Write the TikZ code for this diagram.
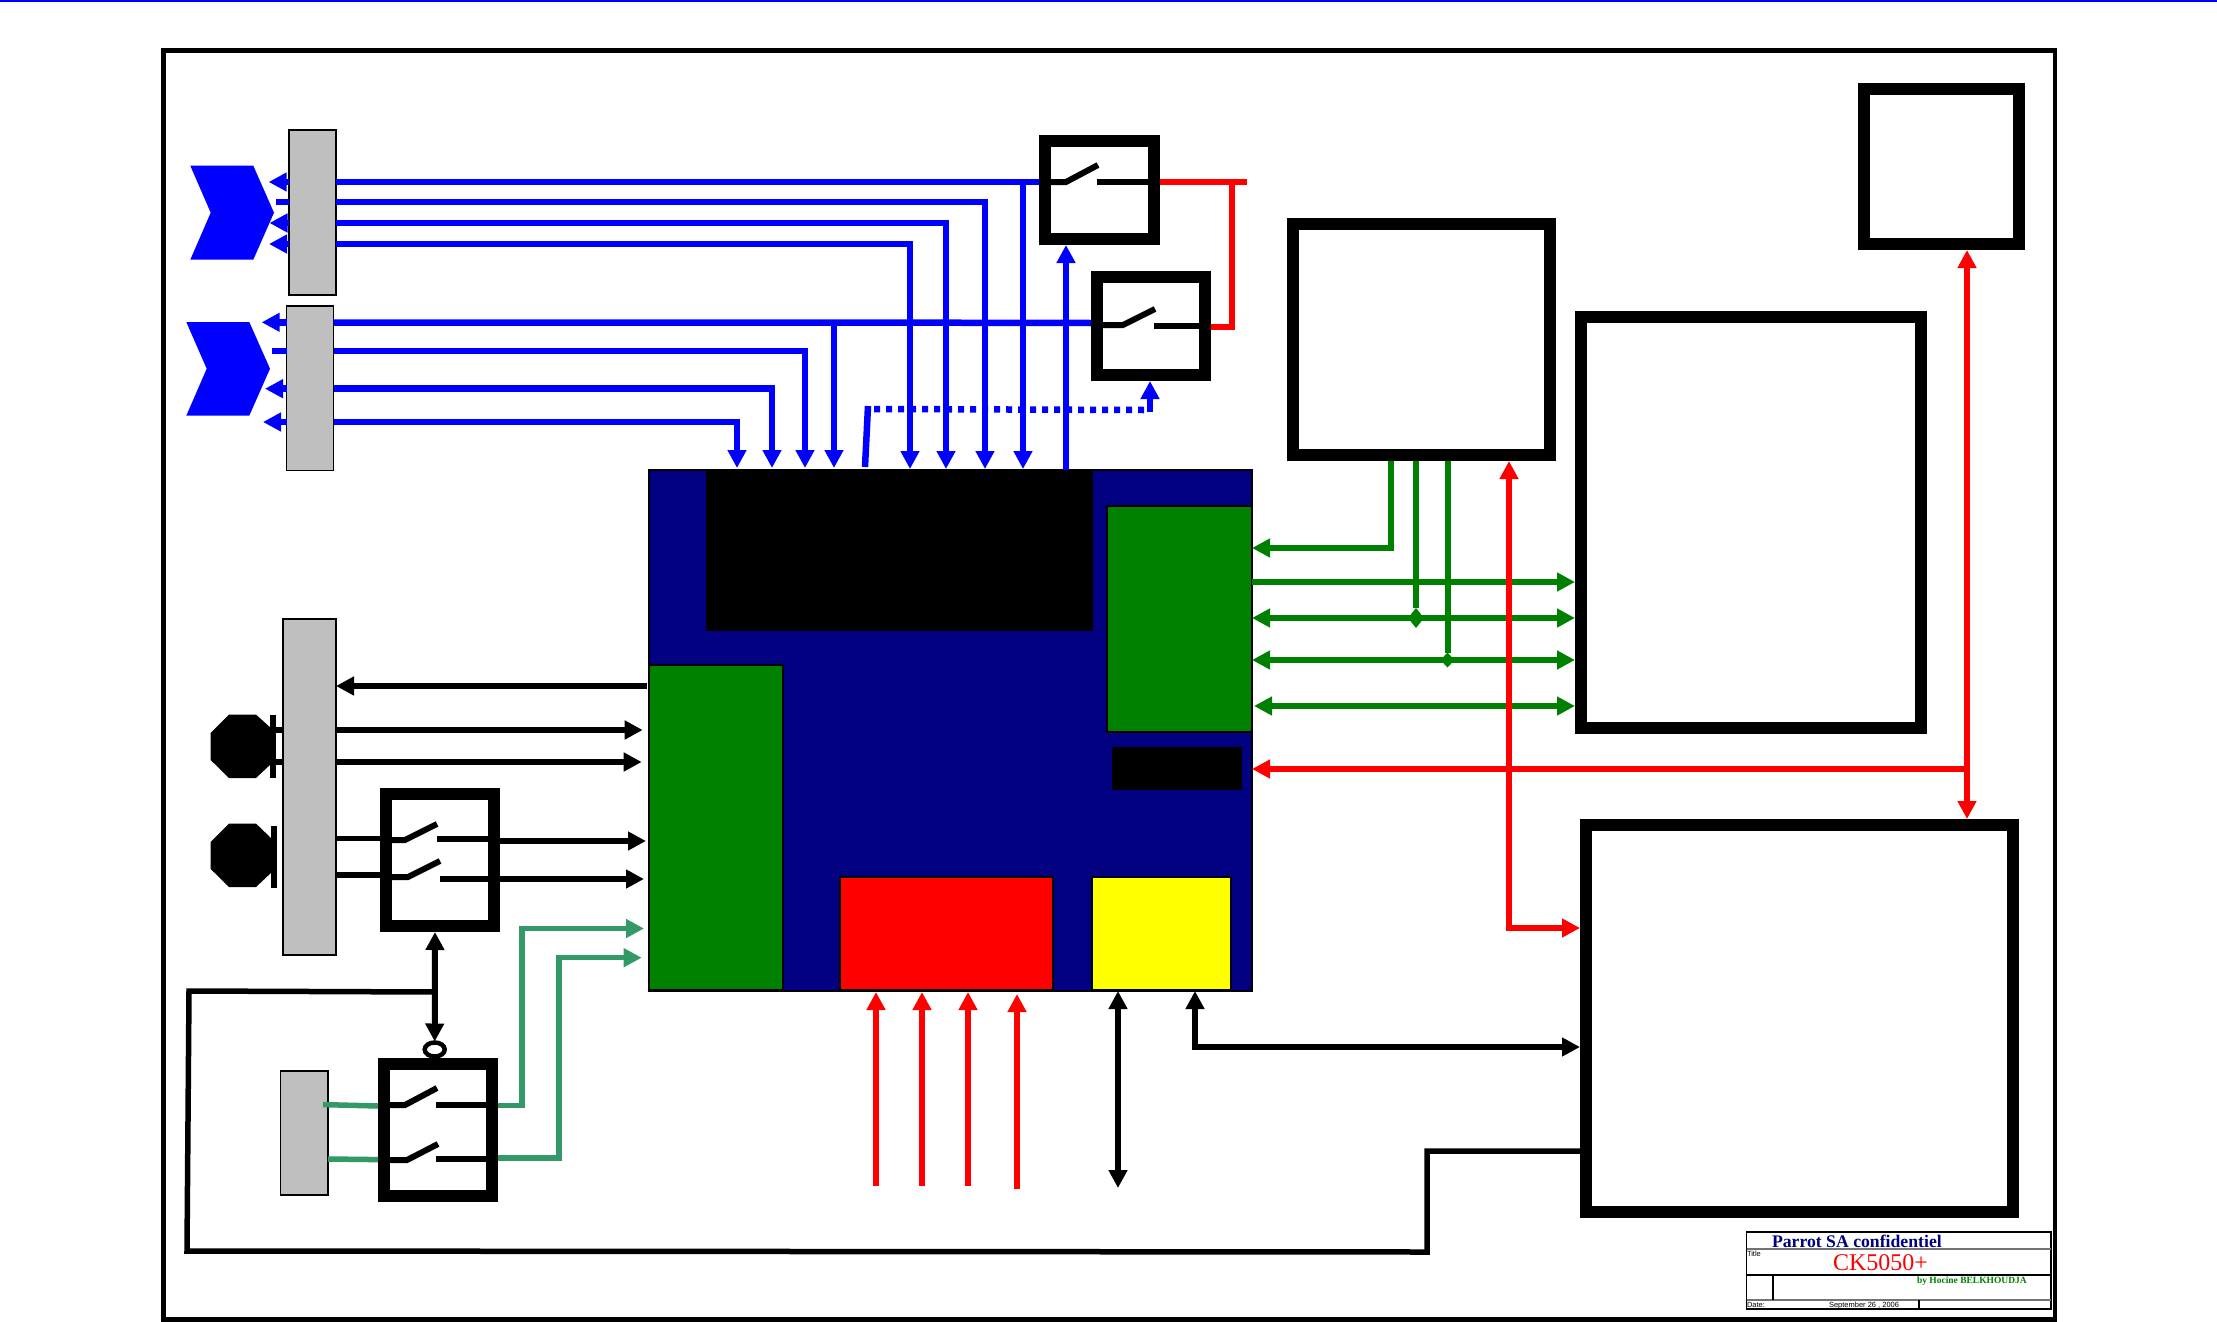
\documentclass[tikz,border=0pt]{standalone}
\usepackage{fontspec}
\setmainfont{Liberation Serif}
\newfontfamily\lsans{Liberation Sans}
\usetikzlibrary{arrows.meta,shapes.geometric,calc}
\definecolor{navyb}{HTML}{000080}
\definecolor{greenb}{HTML}{008000}
\definecolor{seag}{HTML}{339966}
\definecolor{grayb}{HTML}{BFBFBF}
\definecolor{yellowb}{HTML}{FFFF00}
\definecolor{redb}{HTML}{FF0000}
\definecolor{blueb}{HTML}{0000FF}
\newcommand{\boxat}[6]{\node[#1,minimum width={(#5-#3)*1pt},minimum height={(#6-#4)*1pt}] (#2) at ({(#3+#5)/2},{(#4+#6)/2}) {};}
\tikzset{
  >={Triangle[length=18pt,width=18pt]},
  plain/.style={rectangle,inner sep=0pt,outer sep=0pt},
  thickbox/.style={plain,draw=black,line width=12pt,fill=white,outer sep=6pt},
  graybox/.style={plain,draw=black,line width=1.5pt,fill=grayb},
  solid box/.style={plain,draw=black,line width=1.5pt,fill=#1},
  bw/.style={draw=blueb,line width=6.5pt},
  gw/.style={draw=greenb,line width=6pt},
  rw/.style={draw=redb,line width=6pt},
  kw/.style={draw=black,line width=5.5pt},
  sw/.style={draw=seag,line width=5.5pt},
  contact/.style={draw=black,line width=6pt},
  chev/.style={fill=blueb},
  octa/.style={fill=black},
  dia/.style={diamond,fill=greenb,inner sep=0pt,outer sep=0pt},
  tline/.style={draw=black,line width=1.2pt},
  tgray/.style={draw=black!55,line width=1.2pt},
  txt/.style={inner sep=0pt,outer sep=0pt,anchor=base west},
}
\begin{document}
\begin{tikzpicture}[x=1pt,y=-1pt]
\useasboundingbox (0,0) rectangle (2217,1322);
\fill[white] (0,0) rectangle (2217,1322);
\draw[draw=blueb,line width=2.5pt] (0,1) -- (2217,1);
\node[plain,draw=black,line width=4.6pt,minimum width=1891.5pt,minimum height=1269pt] (frame) at (1109.25,685) {};

% main block
\boxat{solid box=navyb}{main}{649}{470}{1252}{991}
\node[plain,fill=black,minimum width=387pt,minimum height=162pt] (core) at (899.5,550) {};
\boxat{solid box=greenb}{gright}{1107}{506}{1252}{732}
\boxat{solid box=greenb}{gleft}{649}{665}{783}{990}
\node[plain,fill=black,minimum width=130pt,minimum height=43pt] (blk) at (1177,768.5) {};
\boxat{solid box=redb}{redbk}{840}{877}{1053}{990}
\boxat{solid box=yellowb}{yel}{1092}{877}{1231}{990}

% grey connectors
\boxat{graybox}{con1}{289}{130}{336}{295}
\boxat{graybox}{con2}{286.5}{306}{333.5}{470.5}
\boxat{graybox}{con3}{283}{619}{336}{955}
\boxat{graybox}{con4}{280.5}{1071}{328}{1195}

% thick boxes
\boxat{thickbox}{swa}{1045}{141}{1154}{239}
\boxat{thickbox}{swb}{1097}{277}{1205}{375}
\boxat{thickbox}{swc}{386}{794}{494}{926}
\boxat{thickbox}{swd}{384}{1064}{492}{1196}
\boxat{thickbox}{boxa}{1293}{224}{1550}{455}
\boxat{thickbox}{boxb}{1581}{317}{1921}{728}
\boxat{thickbox}{boxc}{1586}{825}{2013}{1212}
\boxat{thickbox}{boxd}{1864}{89}{2019}{244}

% chevrons
\fill[chev] (190.3,165.7) -- (253.3,165.7) -- (274,212.7) -- (253.3,259.7) -- (190.3,259.7) -- (210.7,212.7) -- cycle;
\fill[chev] (186.3,322) -- (249.3,322) -- (270,368.7) -- (249.3,415.7) -- (186.3,415.7) -- (206.7,368.7) -- cycle;

% speakers / mics
\fill[octa] (210.7,733) -- (229,714.6) -- (256,714.6) -- (272,729) -- (272,763) -- (256,778) -- (229,778) -- (210.7,760) -- cycle;
\fill[octa] (270,714.6) rectangle (276,778);
\draw[kw] (276,730) -- (con3.west |- 0,730);
\draw[kw] (276,762) -- (con3.west |- 0,762);
\fill[octa] (210.7,842) -- (229,823.6) -- (256,823.6) -- (272,839) -- (272,872) -- (256,887) -- (229,887) -- (210.7,869) -- cycle;
\fill[octa] (270.7,826) rectangle (276.7,887.5);

% switch internals
\draw[contact] (1051,182) -- (1066,182) -- (1098,165);
\draw[contact] (1097,182) -- (1148,182);
\draw[contact] (1103,325) -- (1123,325) -- (1155,309);
\draw[contact] (1154,326) -- (1199,326);
\draw[contact] (392,840) -- (405,840) -- (437,824);
\draw[contact] (437,839) -- (488,839);
\draw[contact] (392,877) -- (408,877) -- (440,861);
\draw[contact] (440,879) -- (488,879);
\draw[contact] (390,1105) -- (405,1105) -- (437,1088);
\draw[contact] (436,1105) -- (486,1105);
\draw[contact] (390,1160) -- (407,1160) -- (438,1144);
\draw[contact] (436,1159) -- (486,1159);

% blue connectors, upper connector
\coordinate (t1) at (985,469);
\coordinate (t2) at (946,469);
\coordinate (t3) at (910,469);
\coordinate (t4) at (1023,469);
\draw[bw] (con1.east |- 0,182) -- (swa.west |- 0,182);
\draw[bw,->] (1023,182) -- (t4);
\draw[bw,->] (con1.east |- 0,202) -| (t1);
\draw[bw,->] (con1.east |- 0,223) -| (t2);
\draw[bw,->] (con1.east |- 0,244) -| (t3);
\draw[bw,->] (con1.west |- 0,182) -- (268.7,182);
\draw[bw] (con1.west |- 0,202) -- (276,202);
\draw[bw,->] (con1.west |- 0,223) -- (269.5,223);
\draw[bw,->] (con1.west |- 0,244) -- (269,244);
% blue connectors, lower connector
\coordinate (t5) at (834,468);
\coordinate (t6) at (805,468);
\coordinate (t7) at (772,468);
\coordinate (t8) at (737,468);
\draw[bw] (con2.east |- 0,322.5) -- (834,322.5) -- (swb.west |- 0,323);
\draw[bw,->] (834,323) -- (t5);
\draw[bw,->] (con2.east |- 0,351) -| (t6);
\draw[bw,->] (con2.east |- 0,388.7) -| (t7);
\draw[bw,->] (con2.east |- 0,422) -| (t8);
\draw[bw,->] (con2.west |- 0,322.3) -- (261.7,322.3);
\draw[bw] (con2.west |- 0,351) -- (272,351);
\draw[bw,->] (con2.west |- 0,388.7) -- (265,388.7);
\draw[bw,->] (con2.west |- 0,422) -- (263,422);
% core to switches
\draw[bw,->] (1066,470) -- (1066,245);
\draw[bw,dash pattern=on 6pt off 6pt] (874,409) -- (1144,410);
\draw[bw] (865,467) -- (868,406);
\draw[bw,->] (swb.south -| 1150,412) ++(0,31) -- (swb.south -| 1150,381);
% red link of the two switches
\draw[rw] (swa.east |- 0,181.5) -- (1247,181.5);
\draw[rw] (1232,181.5) -- (1232,327) -- (swb.east |- 0,327);

% green bus
\node[dia,minimum width=16pt,minimum height=20pt] (ja) at (1416,618) {};
\node[dia,minimum width=14pt,minimum height=15pt] (jb) at (1447.5,660) {};
\draw[gw,->] (boxa.south -| 1391,0) |- (gright.east |- 0,548);
\draw[gw] (boxa.south -| ja) -- (ja);
\draw[gw] (boxa.south -| jb) -- (jb);
\draw[gw,->] (gright.east |- 0,582) -- (boxb.west |- 0,582);
\draw[gw,<->] (gright.east |- 0,618) -- (boxb.west |- 0,618);
\draw[gw,<->] (gright.east |- 0,660) -- (boxb.west |- 0,660);
\draw[gw,<->] (1254,706) -- (boxb.west |- 0,706);

% red lines
\draw[rw,<->] (boxa.south -| 1509,0) -- (1509,928) -- (boxc.west |- 0,928);
\draw[rw,->] (1967,769) -- (main.east |- 0,769);
\draw[rw,<->] (boxd.south -| 1967,0) -- (boxc.north -| 1967,0);
\draw[rw,->] (876,1186) -- (876,992);
\draw[rw,->] (922,1186) -- (922,992);
\draw[rw,->] (968,1186) -- (968,992);
\draw[rw,->] (1017,1189) -- (1017,994);

% black lines, bottom
\draw[kw,<->] (1118,991) -- (1118,1188);
\draw[kw,<->] (1195,991) -- (1195,1047) -- (boxc.west |- 0,1047);
\draw[kw] (boxc.west |- 0,1151) -- (1427,1151) -- (1427,1252) -- (187,1251) -- (189,991) -- (435,992);

% black lines, left
\draw[kw,->] (646.7,686) -- (con3.east |- 0,686);
\draw[kw,->] (con3.east |- 0,730) -- (642.7,730);
\draw[kw,->] (con3.east |- 0,762) -- (641.7,762);
\draw[kw] (con3.east |- 0,838.5) -- (swc.west |- 0,838.5);
\draw[kw] (con3.east |- 0,875) -- (swc.west |- 0,875);
\draw[kw,->] (swc.east |- 0,841) -- (646,841);
\draw[kw,->] (swc.east |- 0,879) -- (644,879);

% control of the switches
\node[ellipse,draw=black,line width=4.5pt,fill=white,minimum width=20pt,minimum height=14pt,inner sep=0pt,outer sep=0pt] (bub) at (434.7,1049.5) {};
\draw[kw,line width=6pt,<->] (bub.north) ++(0,-1) -- (swc.south -| 435,0);

% sea green lines
\draw[sw] (323,1104.6) -- (swd.west |- 0,1106);
\draw[sw] (con4.east |- 0,1159) -- (swd.west |- 0,1159.6);
\draw[sw,->] (swd.east |- 0,1105.5) -- (522,1105.5) -- (522,928.5) -- (644,928.5);
\draw[sw,->] (swd.east |- 0,1158) -- (559,1158) -- (559,957.7) -- (641.7,957.7);

% title block
\node[plain,draw=black,line width=1.2pt,minimum width=304.4pt,minimum height=77pt] (tb) at (1898.8,1270.5) {};
\draw[tgray] (tb.west |- 0,1249) -- (tb.east |- 0,1249);
\draw[tline] (tb.west |- 0,1275) -- (tb.east |- 0,1275);
\draw[tgray] (tb.west |- 0,1300) -- (tb.east |- 0,1300);
\draw[tline] (1773,1275) -- (1773,1300);
\draw[tline] (1919,1300) -- (tb.south -| 1919,0);
\node[txt,text=navyb,font=\fontsize{17.7}{20}\selectfont\bfseries] (t-conf) at (1772,1247) {Parrot SA confidentiel};
\node[txt,text=redb,font=\fontsize{24}{26}\selectfont] (t-name) at (1833,1270.7) {CK5050+};
\node[txt,text=greenb,font=\fontsize{9.5}{11}\selectfont\bfseries] (t-by) at (1917,1283) {by Hocine BELKHOUDJA};
\node[txt,font=\fontsize{7.5}{9}\selectfont\lsans] (t-title) at (1747,1256) {Title};
\node[txt,font=\fontsize{7.5}{9}\selectfont\lsans] (t-date) at (1747,1307) {Date:};
\node[txt,font=\fontsize{7.5}{9}\selectfont\lsans] (t-sep) at (1829,1307) {September 26 , 2006};
\end{tikzpicture}
\end{document}
